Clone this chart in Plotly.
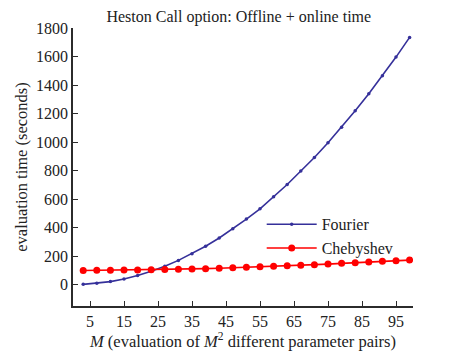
import plotly.graph_objects as go

# Problem size M (evaluations of M^2 parameter pairs)
m_values = [3, 7, 11, 15, 19, 23, 27, 31, 35, 39, 43, 47, 51,
            55, 59, 63, 67, 71, 75, 79, 83, 87, 91, 95, 99]

# evaluation time in seconds
fourier_time = [2, 9, 21, 40, 64, 94, 129, 170, 217, 269, 327, 391, 460,
                532, 616, 702, 797, 892, 995, 1104, 1219, 1339, 1465, 1596, 1734]
cheb_time = [99, 100, 101, 102, 103, 105, 106, 108, 110, 112, 115, 118, 121,
             125, 128, 132, 136, 140, 144, 149, 154, 159, 164, 168, 172]

x_ticks = [5, 15, 25, 35, 45, 55, 65, 75, 85, 95]
y_ticks = [0, 200, 400, 600, 800, 1000, 1200, 1400, 1600, 1800]

font_family = "Liberation Serif, serif"
axis_color = '#2b2b2b'

fig = go.Figure()

fig.add_trace(go.Scatter(
    x=m_values,
    y=fourier_time,
    mode='lines+markers',
    name='Fourier',
    line=dict(color='#35309a', width=1.6),
    marker=dict(color='#35309a', size=3.5)
))

fig.add_trace(go.Scatter(
    x=m_values,
    y=cheb_time,
    mode='lines+markers',
    name='Chebyshev',
    line=dict(color='#ff0000', width=1.6),
    marker=dict(color='#ff0000', size=7)
))

# page body adds an 8px offset, so the figure is 8px smaller than the window
fig.update_layout(
    width=449,
    height=348,
    margin=dict(l=56, r=44, t=20, b=48),
    paper_bgcolor='white',
    plot_bgcolor='white',
    font=dict(family=font_family, size=16, color='#222222'),
    title=dict(
        text='Heston Call option: Offline + online time',
        x=0.514, xanchor='center',
        y=0.975, yanchor='middle',
        font=dict(size=16)
    ),
    showlegend=True,
    legend=dict(
        x=0.555, y=0.355,
        xanchor='left', yanchor='top',
        bgcolor='rgba(0,0,0,0)',
        font=dict(size=16),
        itemwidth=50,
        tracegroupgap=0
    ),
    xaxis=dict(
        range=[0, 100],
        tickvals=x_ticks,
        ticks='inside',
        ticklen=5,
        tickcolor=axis_color,
        showline=True,
        linecolor=axis_color,
        linewidth=1.5,
        showgrid=False,
        zeroline=False,
        tickfont=dict(size=16),
        title=dict(
            text='<i>M</i> (evaluation of <i>M</i><sup>2</sup> different parameter pairs)',
            font=dict(size=16.5),
            standoff=2
        )
    ),
    yaxis=dict(
        range=[-150, 1800],
        tickvals=y_ticks,
        ticks='inside',
        ticklen=5,
        tickcolor=axis_color,
        showline=True,
        linecolor=axis_color,
        linewidth=1.5,
        showgrid=False,
        zeroline=False,
        tickfont=dict(size=16),
        title=dict(
            text='evaluation time (seconds)',
            font=dict(size=16.5),
            standoff=4
        )
    )
)

fig.write_html("out.html")
